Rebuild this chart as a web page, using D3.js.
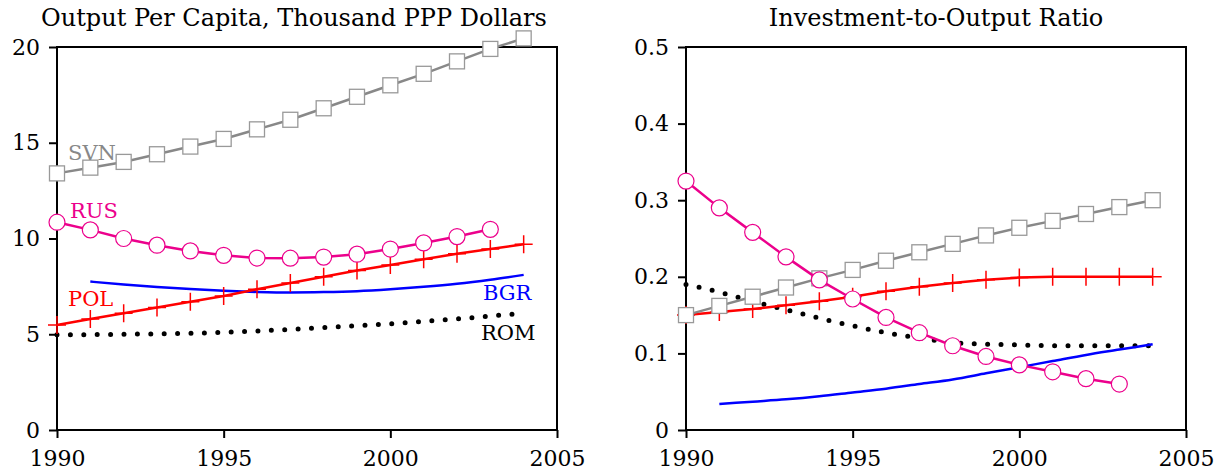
<!DOCTYPE html>
<html>
<head>
<meta charset="utf-8">
<script src="https://cdn.jsdelivr.net/npm/d3@7"></script>
<style>
  body { margin: 0; background: #fff; }
  svg text { font-family: "DejaVu Serif", serif; }
</style>
</head>
<body>
<div id="chart"></div>
<script>
// years
const years = d3.range(1990, 2005);
const yearsBGR = d3.range(1991, 2005);
const yearsRUS = d3.range(1990, 2004);

// Output per capita, thousand PPP dollars
const outSVN = [13.4, 13.7, 14.0, 14.4, 14.8, 15.2, 15.7, 16.2, 16.8, 17.4, 18.0, 18.6, 19.25, 19.9, 20.45];
const outRUS = [10.85, 10.45, 10.0, 9.65, 9.35, 9.12, 8.98, 8.97, 9.03, 9.18, 9.45, 9.77, 10.1, 10.48];
const outPOL = [5.48, 5.8, 6.1, 6.4, 6.7, 7.0, 7.35, 7.68, 8.0, 8.33, 8.62, 8.92, 9.2, 9.45, 9.7];
const outBGR = [7.75, 7.6, 7.47, 7.36, 7.27, 7.21, 7.18, 7.2, 7.25, 7.35, 7.48, 7.64, 7.85, 8.1];
const outROM = [4.98, 4.98, 5.0, 5.02, 5.05, 5.1, 5.17, 5.25, 5.35, 5.45, 5.55, 5.67, 5.8, 5.95, 6.1];

// Investment-to-output ratio
const invSVN = [0.15, 0.162, 0.174, 0.186, 0.198, 0.209, 0.221, 0.232, 0.243, 0.254, 0.264, 0.273, 0.282, 0.291, 0.30];
const invRUS = [0.325, 0.29, 0.258, 0.226, 0.196, 0.171, 0.147, 0.127, 0.11, 0.096, 0.085, 0.076, 0.067, 0.06];
const invPOL = [0.15, 0.154, 0.158, 0.163, 0.168, 0.174, 0.181, 0.187, 0.192, 0.196, 0.199, 0.2, 0.2, 0.2, 0.2];
const invBGR = [0.034, 0.037, 0.04, 0.044, 0.049, 0.054, 0.06, 0.066, 0.074, 0.082, 0.09, 0.098, 0.105, 0.112];
const invROM = [0.19, 0.18, 0.168, 0.157, 0.146, 0.136, 0.127, 0.12, 0.114, 0.112, 0.111, 0.11, 0.11, 0.11, 0.11];

const xTicks = [1990, 1995, 2000, 2005];
const leftTicks = [0, 5, 10, 15, 20];
const rightTicks = [0, 0.1, 0.2, 0.3, 0.4, 0.5];

const colors = { SVN: "#888888", RUS: "#ec008c", POL: "#ff0000", BGR: "#0000ff", ROM: "#000000" };

const width = 1221, height = 475;
const font = '"DejaVu Serif", serif';
const svg = d3.select("#chart").append("svg").attr("width", width).attr("height", height);

function panel(opts) {
  const g = svg.append("g");
  const x = d3.scaleLinear().domain([1990, 2005]).range([opts.x0, opts.x1]);
  const y = d3.scaleLinear().domain(opts.domain).range([430, 47]);

  // axes
  const xAxis = d3.axisBottom(x).tickValues(xTicks).tickFormat(d3.format("d")).tickSize(8).tickPadding(12);
  const yAxis = d3.axisLeft(y).tickValues(opts.ticks).tickFormat(opts.fmt).tickSize(8).tickPadding(9);
  const gx = g.append("g").attr("transform", `translate(0,430)`).call(xAxis);
  const gy = g.append("g").attr("transform", `translate(${opts.x0},0)`).call(yAxis);
  [gx, gy].forEach(a => {
    a.select(".domain").remove();
    a.selectAll("line").attr("stroke", "#000").attr("stroke-width", 2);
    a.selectAll("text").attr("font-size", 22).attr("fill", "#000").attr("font-family", font);
  });

  g.append("rect").attr("x", opts.x0).attr("y", 47)
    .attr("width", opts.x1 - opts.x0).attr("height", 383)
    .attr("fill", "none").attr("stroke", "#000").attr("stroke-width", 2);

  g.append("text").attr("x", (opts.x0 + opts.x1) / 2 + (opts.titleDx || 0)).attr("y", 26)
    .attr("text-anchor", "middle").attr("font-size", 24).attr("font-family", font).text(opts.title);

  const plot = g.append("g");
  const line = (xs, vals, curve) => d3.line().curve(curve || d3.curveLinear)
    .x((d, i) => x(xs[i])).y(d => y(d))(vals);

  // ROM dotted
  plot.append("path").attr("d", line(years, opts.ROM, d3.curveMonotoneX))
    .attr("fill", "none").attr("stroke", colors.ROM).attr("stroke-width", 5)
    .attr("stroke-linecap", "round").attr("stroke-dasharray", "0 13.4");

  // BGR
  plot.append("path").attr("d", line(yearsBGR, opts.BGR, d3.curveMonotoneX))
    .attr("fill", "none").attr("stroke", colors.BGR).attr("stroke-width", 2.5);

  // POL with plus markers
  plot.append("path").attr("d", line(years, opts.POL))
    .attr("fill", "none").attr("stroke", colors.POL).attr("stroke-width", 2.5);
  plot.selectAll(".pol").data(opts.POL).enter().append("path")
    .attr("transform", (d, i) => `translate(${x(years[i])},${y(d)})`)
    .attr("d", "M-9,0H9M0,-9V9")
    .attr("stroke", colors.POL).attr("stroke-width", 1.5).attr("fill", "none");

  // SVN with square markers
  plot.append("path").attr("d", line(years, opts.SVN))
    .attr("fill", "none").attr("stroke", colors.SVN).attr("stroke-width", 2.5);
  plot.selectAll(".svn").data(opts.SVN).enter().append("rect")
    .attr("x", (d, i) => x(years[i]) - 7.5).attr("y", d => y(d) - 7.5)
    .attr("width", 15).attr("height", 15)
    .attr("fill", "#fff").attr("stroke", "#999").attr("stroke-width", 1.3);

  // RUS with circle markers
  plot.append("path").attr("d", line(yearsRUS, opts.RUS))
    .attr("fill", "none").attr("stroke", colors.RUS).attr("stroke-width", 2.5);
  plot.selectAll(".rus").data(opts.RUS).enter().append("circle")
    .attr("cx", (d, i) => x(yearsRUS[i])).attr("cy", d => y(d)).attr("r", 8)
    .attr("fill", "#fff").attr("stroke", colors.RUS).attr("stroke-width", 1.2);

  // labels
  (opts.labels || []).forEach(l => {
    g.append("text").attr("x", l.x).attr("y", l.y).attr("font-size", 21).attr("font-family", font)
      .attr("fill", colors[l.name]).text(l.name);
  });
}

panel({
  x0: 57, x1: 557, domain: [0, 20], ticks: leftTicks, fmt: d3.format("d"),
  title: "Output Per Capita, Thousand PPP Dollars", titleDx: -13,
  SVN: outSVN, RUS: outRUS, POL: outPOL, BGR: outBGR, ROM: outROM,
  labels: [
    { name: "SVN", x: 68, y: 160 },
    { name: "RUS", x: 70, y: 218 },
    { name: "POL", x: 68, y: 306 },
    { name: "BGR", x: 483, y: 300 },
    { name: "ROM", x: 481, y: 340 }
  ]
});

panel({
  x0: 686, x1: 1186, domain: [0, 0.5], ticks: rightTicks, fmt: d => d === 0 ? "0" : d3.format(".1f")(d),
  title: "Investment-to-Output Ratio", titleDx: 0,
  SVN: invSVN, RUS: invRUS, POL: invPOL, BGR: invBGR, ROM: invROM
});
</script>
</body>
</html>
